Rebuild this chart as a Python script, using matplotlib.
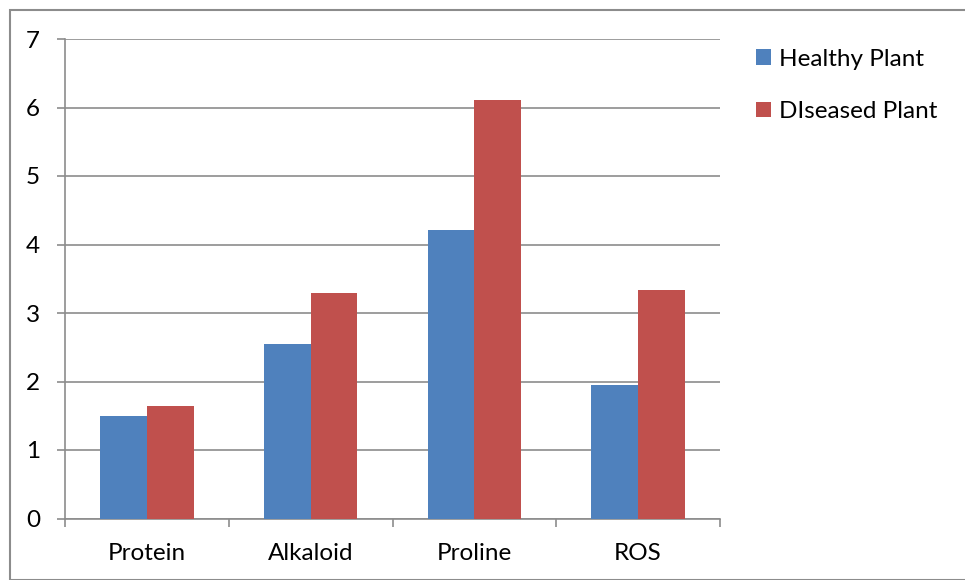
import numpy as np
import matplotlib.pyplot as plt
from matplotlib.patches import Rectangle

plt.rcParams['font.family'] = ['Lato', 'DejaVu Sans']

categories = ["Protein", "Alkaloid", "Proline", "ROS"]
healthy = [1.50, 2.55, 4.21, 1.95]
diseased = [1.64, 3.29, 6.11, 3.34]
series_names = ["Healthy Plant", "DIseased Plant"]

BLUE = "#4F81BD"
RED = "#C0504D"
GRID = "#8C8C8C"
FS = 17.5

W, H = 965, 580
fig = plt.figure(figsize=(W / 100, H / 100), dpi=100)
ax = fig.add_axes([65 / W, 1 - 518.5 / H, (720 - 65) / W, (518.5 - 39) / H])

x = np.arange(len(categories))
bw = 1 / 3.5
ax.bar(x - bw / 2, healthy, width=bw, color=BLUE, label=series_names[0], zorder=3)
ax.bar(x + bw / 2, diseased, width=bw, color=RED, label=series_names[1], zorder=3)

ax.set_xlim(-0.5, len(categories) - 0.5)
ax.set_ylim(0, 7)
ax.set_yticks(range(0, 8))
ax.yaxis.grid(True, color=GRID, linewidth=1.2, zorder=0)
ax.set_axisbelow(True)

ax.set_xticks(x)
ax.set_xticklabels(categories, fontsize=FS)
ax.tick_params(axis='x', length=0, pad=18)
# category boundary ticks
ax.set_xticks(np.arange(-0.5, len(categories)), minor=True)
ax.tick_params(axis='x', which='minor', length=6, direction='out', color=GRID, width=1.2)
ax.tick_params(axis='y', length=6, direction='out', color=GRID, width=1.2,
               labelsize=FS, pad=12)

for s in ['top', 'right']:
    ax.spines[s].set_visible(False)
for s in ['left', 'bottom']:
    ax.spines[s].set_color(GRID)
    ax.spines[s].set_linewidth(1.2)

ax.legend(loc='upper left', bbox_to_anchor=(1.04, 1.0), frameon=False,
          fontsize=FS, handlelength=0.6, handleheight=0.6, handletextpad=0.35,
          labelspacing=1.3, borderaxespad=0)

# outer chart border
fig.patches.append(Rectangle((9.5 / W, 0), 1, 1 - 10 / H, transform=fig.transFigure,
                             fill=False, edgecolor="#8C8C8C", linewidth=1.5))

fig.savefig("out.png", dpi=100)
